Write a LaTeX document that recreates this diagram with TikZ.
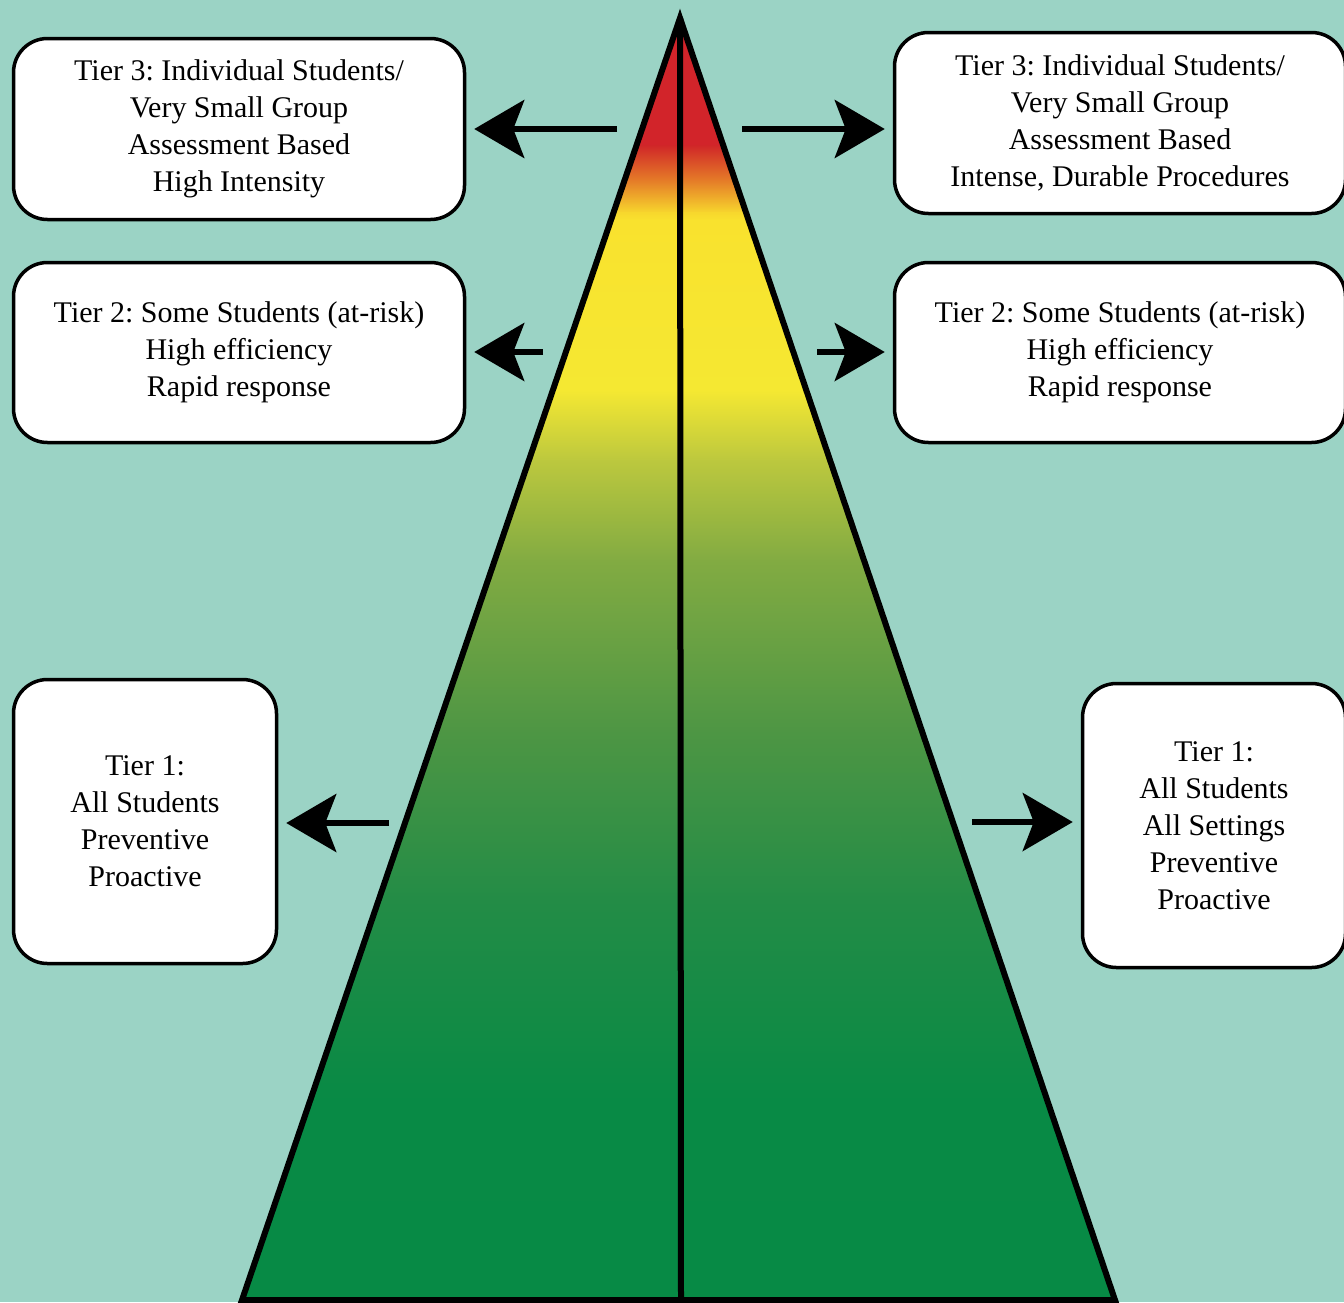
\documentclass[tikz,border=0pt]{standalone}
\usepackage{fontspec}
\setmainfont{Liberation Serif}
\frenchspacing
\usetikzlibrary{arrows.meta}
\definecolor{bg}{RGB}{155,211,197}
\definecolor{g00}{RGB}{210,36,42}
\definecolor{g01}{RGB}{208,38,40}
\definecolor{g02}{RGB}{228,120,40}
\definecolor{g03}{RGB}{247,215,45}
\definecolor{g04}{RGB}{249,226,46}
\definecolor{g05}{RGB}{245,232,50}
\definecolor{g06}{RGB}{188,200,62}
\definecolor{g07}{RGB}{130,171,66}
\definecolor{g08}{RGB}{78,150,68}
\definecolor{g09}{RGB}{35,140,70}
\definecolor{g10}{RGB}{8,138,69}
\definecolor{g11}{RGB}{7,138,69}
\begin{document}
\begin{tikzpicture}[x=1pt,y=-1pt,
  tierbox/.style={draw=black, line width=3.5pt, fill=white, rounded corners=34pt,
    align=center, inner sep=0pt, font=\fontsize{30}{37}\selectfont},
  tierarrow/.style={line width=6pt, -{Stealth[length=50pt,width=58pt,inset=11pt]}, shorten >=8pt},
  pyr/.style={line width=6pt, line join=miter}
]
\path[use as bounding box, clip] (0,0) rectangle (1344,1302);
\fill[bg] (0,0) rectangle (1344,1302);

% pyramid
\coordinate (apex) at (680,18);
\coordinate (bl) at (242,1300);
\coordinate (br) at (1115,1300);
\coordinate (bm) at (681,1302);
\begin{scope}
  \clip (apex) -- (bl) -- (br) -- cycle;
  \fill[g00] (200,0) rectangle (1200,146);
  \shade[top color=g01, bottom color=g03, middle color=g02] (200,145) rectangle (1200,213);
  \shade[top color=g03, bottom color=g04] (200,212) rectangle (1200,221);
  \shade[top color=g04, bottom color=g05] (200,220) rectangle (1200,391);
  \shade[top color=g05, bottom color=g06] (200,390) rectangle (1200,461);
  \shade[top color=g06, bottom color=g07] (200,460) rectangle (1200,561);
  \shade[top color=g07, bottom color=g08] (200,560) rectangle (1200,731);
  \shade[top color=g08, bottom color=g09] (200,730) rectangle (1200,901);
  \shade[top color=g09, bottom color=g10] (200,900) rectangle (1200,1101);
  \shade[top color=g10, bottom color=g11] (200,1100) rectangle (1200,1302);
\end{scope}
\draw[pyr] (apex) -- (bl) -- (br) -- cycle;
\draw[line width=6pt] (apex) -- (bm);

% boxes
\node[tierbox, minimum width=451pt, minimum height=181pt] (t3l) at (239,129)
  {Tier 3: Individual Students/\\Very Small Group\\Assessment Based\\High Intensity};
\node[tierbox, minimum width=451pt, minimum height=181pt] (t3r) at (1120,123)
  {Tier 3: Individual Students/\\Very Small Group\\Assessment Based\\Intense, Durable Procedures};
\node[tierbox, minimum width=451pt, minimum height=180pt] (t2l) at (239,352.5)
  {Tier 2: Some Students (at-risk)\\High efficiency\\Rapid response};
\node[tierbox, minimum width=451pt, minimum height=180pt] (t2r) at (1120,352.5)
  {Tier 2: Some Students (at-risk)\\High efficiency\\Rapid response};
\node[tierbox, minimum width=263pt, minimum height=284pt] (t1l) at (145,821.5)
  {Tier 1:\\All Students\\Preventive\\Proactive};
\node[tierbox, minimum width=263pt, minimum height=284pt] (t1r) at (1214,825.5)
  {Tier 1:\\All Students\\All Settings\\Preventive\\Proactive};

% arrows
\coordinate (a3l) at (617,129);
\coordinate (a3r) at (742,129);
\coordinate (a2l) at (543,352);
\coordinate (a2r) at (817,352);
\coordinate (a1l) at (389,823);
\coordinate (a1r) at (972,822);
\draw[tierarrow] (a3l) -- (a3l -| t3l.east);
\draw[tierarrow] (a3r) -- (a3r -| t3r.west);
\draw[tierarrow] (a2l) -- (a2l -| t2l.east);
\draw[tierarrow] (a2r) -- (a2r -| t2r.west);
\draw[tierarrow] (a1l) -- (a1l -| t1l.east);
\draw[tierarrow] (a1r) -- (a1r -| t1r.west);
\end{tikzpicture}
\end{document}
